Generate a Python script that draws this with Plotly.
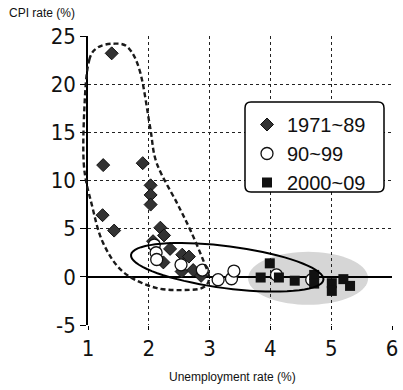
import math
import plotly.graph_objects as go

# ---- data ----
d7189_x = [1.39, 1.25, 1.90, 2.03, 2.03, 2.03, 1.24, 1.43, 2.19, 2.25, 2.07, 2.35, 2.55, 2.66, 2.24, 2.54, 2.73, 2.86]
d7189_y = [23.2, 11.6, 11.8, 9.5, 8.5, 7.5, 6.4, 4.8, 5.1, 4.3, 3.7, 2.9, 2.3, 2.1, 1.5, 0.55, 0.7, 0.1]

d9099_x = [2.09, 2.12, 2.13, 2.53, 2.88, 3.14, 3.36, 3.40, 4.10, 4.68]
d9099_y = [3.3, 2.5, 1.8, 1.25, 0.7, -0.3, -0.2, 0.6, 0.2, -0.3]

d0009_x = [3.99, 3.84, 4.14, 4.40, 4.72, 4.72, 5.01, 5.01, 5.20, 5.31]
d0009_y = [1.4, -0.07, -0.07, -0.4, 0.2, -0.7, -0.66, -1.46, -0.24, -0.94]

series_names = ["1971~89", "90~99", "2000~09"]
x_ticks = [1, 2, 3, 4, 5, 6]
y_ticks = [-5, 0, 5, 10, 15, 20, 25]

X0, X1, Y0, Y1 = 1, 6, -5, 25
ML, MR, MT, MB = 88, 11, 36, 65
W, H = 403, 390
PW, PH = W - ML - MR, H - MT - MB
SX, SY = PW / (X1 - X0), PH / (Y1 - Y0)


def to_paper(x, y):
    return (x - X0) / (X1 - X0), (y - Y0) / (Y1 - Y0)


def ellipse_path(cx, cy, a_px, b_px, ang_deg, n=72):
    th = math.radians(ang_deg)
    pts = []
    for i in range(n):
        t = 2 * math.pi * i / n
        dx = a_px * math.cos(t) * math.cos(th) - b_px * math.sin(t) * math.sin(th)
        dy = a_px * math.cos(t) * math.sin(th) + b_px * math.sin(t) * math.cos(th)
        px, py = to_paper(cx + dx / SX, cy - dy / SY)
        pts.append((px, py))
    s = "M %.5f %.5f " % pts[0] + " ".join("L %.5f %.5f" % p for p in pts[1:]) + " Z"
    return s


def smooth_closed(points):
    P = [to_paper(x, y) for x, y in points]
    n = len(P)
    s = "M %.5f %.5f" % P[0]
    for i in range(n):
        p0, p1, p2, p3 = P[i - 1], P[i], P[(i + 1) % n], P[(i + 2) % n]
        c1 = (p1[0] + (p2[0] - p0[0]) / 6, p1[1] + (p2[1] - p0[1]) / 6)
        c2 = (p2[0] - (p3[0] - p1[0]) / 6, p2[1] - (p3[1] - p1[1]) / 6)
        s += " C %.5f %.5f %.5f %.5f %.5f %.5f" % (c1[0], c1[1], c2[0], c2[1], p2[0], p2[1])
    return s + " Z"


outline_7189 = [(1.02, 22.5), (1.16, 23.8), (1.41, 24.2), (1.66, 23.8), (1.86, 21.2),
                (2.02, 15.6), (2.13, 11.8), (2.46, 7.7), (2.68, 4.9), (2.89, 1.8),
                (2.99, 0.0), (2.92, -1.0), (2.68, -1.35), (2.12, -1.15), (1.58, 0.5),
                (1.25, 3.5), (1.07, 7.3), (0.93, 11.8), (0.95, 18.7)]

fig = go.Figure()
fig.add_trace(go.Scatter(x=d7189_x, y=d7189_y, mode="markers", name=series_names[0],
                         marker=dict(symbol="diamond", size=10, color="#333333",
                                     line=dict(color="#111111", width=1)), cliponaxis=False))
fig.add_trace(go.Scatter(x=d9099_x, y=d9099_y, mode="markers", name=series_names[1],
                         marker=dict(symbol="circle", size=12, color="white",
                                     line=dict(color="#111111", width=1.3)), cliponaxis=False))
fig.add_trace(go.Scatter(x=d0009_x, y=d0009_y, mode="markers", name=series_names[2],
                         marker=dict(symbol="square", size=10, color="#111111"), cliponaxis=False))

shapes = [
    dict(type="path", xref="paper", yref="paper", layer="below",
         path=ellipse_path(4.62, -0.15, 60, 26.5, 0), fillcolor="rgb(214,214,214)",
         line=dict(width=0)),
    dict(type="path", xref="paper", yref="paper", layer="above",
         path=ellipse_path(3.29, 0.99, 97, 21, 7.4), line=dict(color="black", width=2)),
    dict(type="path", xref="paper", yref="paper", layer="above",
         path=smooth_closed(outline_7189), line=dict(color="#1a1a1a", width=2.4, dash="5px,3px")),
]
# legend box (rounded)
lx0, lx1 = (245 - ML) / PW, (384 - ML) / PW
ly1, ly0 = 1 - (102 - MT) / PH, 1 - (192 - MT) / PH
r = 6
rx, ry = r / PW, r / PH
legend_path = (f"M {lx0+rx} {ly1} L {lx1-rx} {ly1} Q {lx1} {ly1} {lx1} {ly1-ry} "
               f"L {lx1} {ly0+ry} Q {lx1} {ly0} {lx1-rx} {ly0} L {lx0+rx} {ly0} "
               f"Q {lx0} {ly0} {lx0} {ly0+ry} L {lx0} {ly1-ry} Q {lx0} {ly1} {lx0+rx} {ly1} Z")
shapes.append(dict(type="path", xref="paper", yref="paper", layer="above", path=legend_path,
                   fillcolor="white", line=dict(color="black", width=1.5)))

tickfont = dict(family="DejaVu Sans Condensed, Liberation Sans Narrow, Arial", size=22, color="#111111")

fig.update_layout(
    width=W, height=H, margin=dict(l=ML, r=MR, t=MT, b=MB, autoexpand=False),
    paper_bgcolor="white", plot_bgcolor="white",
    shapes=shapes,
    showlegend=True,
    legend=dict(x=lx0 + 2 / PW, y=ly1 - 3 / PH, xanchor="left", yanchor="top",
                bgcolor="rgba(0,0,0,0)", borderwidth=0,
                font=dict(family="Liberation Sans, Arial", size=20, color="#111111"),
                tracegroupgap=0, itemwidth=30),
    xaxis=dict(range=[X0, X1], tickvals=x_ticks, ticktext=[str(v) for v in x_ticks],
               showgrid=True, gridcolor="#222222", gridwidth=1.2, griddash="dot",
               showline=False, zeroline=False, ticks="outside", ticklen=4, tickcolor="black",
               tickfont=tickfont, fixedrange=True, automargin=False),
    yaxis=dict(range=[Y0, Y1], tickvals=y_ticks, ticktext=[str(v) for v in y_ticks],
               showgrid=True, gridcolor="#222222", gridwidth=1.2, griddash="dot",
               showline=True, linecolor="black", linewidth=1.5,
               zeroline=True, zerolinecolor="black", zerolinewidth=1.5,
               ticks="outside", ticklen=6, tickcolor="black", tickwidth=1.2,
               tickfont=tickfont, fixedrange=True, automargin=False),
    annotations=[
        dict(text="CPI rate (%)", xref="paper", yref="paper", x=-ML / PW + 7 / PW, y=1 + (MT - 13) / PH,
             xanchor="left", yanchor="middle", showarrow=False,
             font=dict(family="Liberation Sans, Arial", size=12, color="#111111")),
        dict(text="Unemployment rate (%)", xref="paper", yref="paper", x=(232 - ML) / PW,
             y=-(377 - MT - PH) / PH, xanchor="center", yanchor="middle", showarrow=False,
             font=dict(family="Liberation Sans, Arial", size=12, color="#111111")),
    ],
)

fig.write_html("out.html", config={"displayModeBar": False},
               post_script="document.body.style.margin='0';document.body.style.overflow='hidden';")
